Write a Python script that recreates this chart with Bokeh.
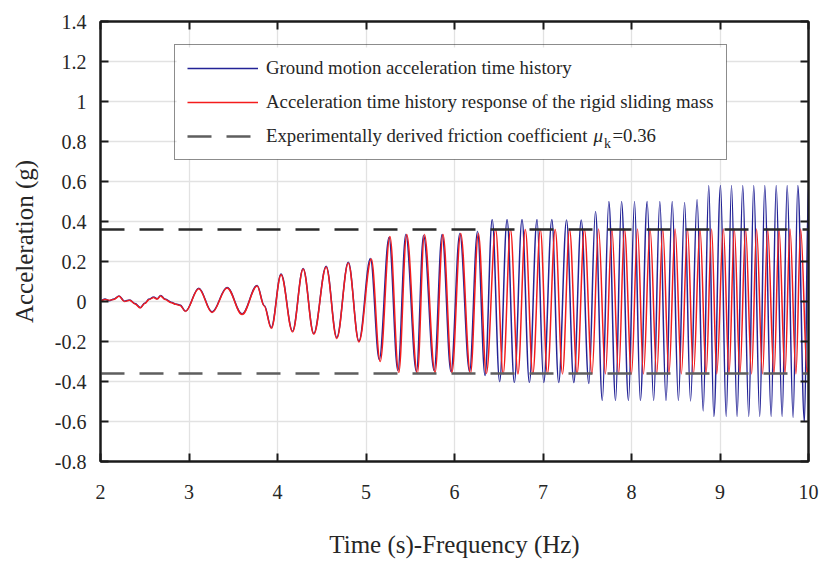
from bokeh.plotting import figure
from bokeh.models import Range1d, Legend, LegendItem, LinearAxis, FixedTicker, BoxAnnotation
from bokeh.core.properties import value
from bokeh.embed import file_html
from bokeh.resources import INLINE

# ---------------- data ----------------
# ground motion acceleration: times (s) and values (g) of the drawn turning points
t_ground = [2.00, 2.05, 2.10, 2.15, 2.21, 2.27, 2.33, 2.39, 2.45, 2.50, 2.55, 2.60, 2.64, 2.68, 2.73, 2.80, 2.85, 2.90, 2.96,
            3.11, 3.26, 3.43, 3.60, 3.77, 3.85, 3.93, 4.04, 4.17, 4.29, 4.41, 4.55, 4.67, 4.80, 4.92,
            5.05, 5.15, 5.26, 5.36, 5.45, 5.57, 5.65, 5.77, 5.86, 5.96, 6.06, 6.17, 6.26, 6.345,
            6.426, 6.51, 6.594, 6.676, 6.763, 6.846, 6.932, 7.008, 7.10, 7.177, 7.266, 7.348, 7.432, 7.518,
            7.593, 7.67, 7.744, 7.82, 7.887, 7.966, 8.034, 8.10, 8.177, 8.25, 8.32, 8.39, 8.46, 8.53,
            8.60, 8.667, 8.741, 8.81, 8.873, 8.93, 9.006, 9.07, 9.13, 9.193, 9.257, 9.325, 9.381, 9.449,
            9.506, 9.578, 9.635, 9.702, 9.759, 9.826, 9.879, 9.954, 10.0]
a_ground = [0.005, 0.012, 0.004, 0.012, 0.028, 0.002, 0.008, -0.010, -0.030, -0.008, 0.012, 0.022, 0.014, 0.030, 0.012, -0.004, -0.012, -0.018, -0.048,
            0.066, -0.052, 0.070, -0.062, 0.080, -0.020, -0.130, 0.138, -0.148, 0.165, -0.160, 0.176, -0.180, 0.196, -0.198,
            0.215, -0.290, 0.320, -0.345, 0.335, -0.350, 0.330, -0.345, 0.335, -0.350, 0.340, -0.350, 0.350, -0.370,
            0.410, -0.400, 0.410, -0.405, 0.410, -0.405, 0.410, -0.405, 0.410, -0.405, 0.407, -0.405, 0.407, -0.410,
            0.450, -0.495, 0.500, -0.495, 0.500, -0.495, 0.500, -0.495, 0.500, -0.495, 0.500, -0.495, 0.500, -0.495,
            0.495, -0.497, 0.510, -0.547, 0.580, -0.575, 0.580, -0.575, 0.580, -0.575, 0.580, -0.575, 0.580, -0.575,
            0.580, -0.575, 0.580, -0.575, 0.580, -0.580, 0.580, -0.600, 0.580]

# response of the rigid sliding mass: times (s) and values (g)
t_mass = [2.00, 2.05, 2.10, 2.15, 2.21, 2.27, 2.33, 2.39, 2.45, 2.50, 2.55, 2.60, 2.64, 2.68, 2.73, 2.80, 2.85, 2.90, 2.96,
          3.11, 3.26, 3.43, 3.60, 3.77, 3.85, 3.93, 4.04, 4.17, 4.29, 4.41, 4.55, 4.67, 4.80, 4.92,
          5.06, 5.16, 5.27, 5.37, 5.46, 5.58, 5.66, 5.78, 5.87, 5.97, 6.07, 6.18, 6.27, 6.36,
          6.465, 6.55, 6.633, 6.717, 6.80, 6.885, 6.97, 7.05, 7.138, 7.22, 7.30, 7.385, 7.468, 7.553,
          7.628, 7.705, 7.778, 7.855, 7.92, 8.00, 8.068, 8.135, 8.21, 8.285, 8.353, 8.423, 8.493, 8.563,
          8.633, 8.70, 8.774, 8.843, 8.905, 8.963, 9.038, 9.102, 9.162, 9.225, 9.289, 9.357, 9.413, 9.481,
          9.538, 9.61, 9.667, 9.734, 9.791, 9.858, 9.911, 9.986, 10.0]
a_mass = [0.004, 0.010, 0.006, 0.010, 0.026, 0.000, 0.006, -0.012, -0.032, -0.010, 0.010, 0.020, 0.012, 0.028, 0.010, -0.006, -0.014, -0.020, -0.050,
          0.064, -0.055, 0.068, -0.065, 0.077, -0.022, -0.135, 0.134, -0.152, 0.162, -0.164, 0.172, -0.185, 0.192, -0.202,
          0.212, -0.300, 0.325, -0.355, 0.335, -0.360, 0.335, -0.355, 0.335, -0.355, 0.340, -0.360, 0.340, -0.360,
          0.360, -0.362, 0.360, -0.362, 0.360, -0.362, 0.360, -0.362, 0.360, -0.362, 0.360, -0.362, 0.360, -0.362,
          0.362, -0.362, 0.362, -0.362, 0.362, -0.362, 0.362, -0.362, 0.362, -0.362, 0.362, -0.362, 0.362, -0.362,
          0.362, -0.362, 0.362, -0.362, 0.362, -0.362, 0.362, -0.362, 0.362, -0.362, 0.362, -0.362, 0.362, -0.362,
          0.362, -0.362, 0.362, -0.362, 0.362, -0.362, 0.362, -0.362, -0.330]

mu_k = 0.36  # experimentally derived friction coefficient

x_ticks = [2, 3, 4, 5, 6, 7, 8, 9, 10]
y_ticks = [-0.8, -0.6, -0.4, -0.2, 0.0, 0.2, 0.4, 0.6, 0.8, 1.0, 1.2, 1.4]
y_tick_labels = ["-0.8", "-0.6", "-0.4", "-0.2", "0", "0.2", "0.4", "0.6", "0.8", "1", "1.2", "1.4"]

legend_labels = ["Ground motion acceleration time history",
                 "Acceleration time history response of the rigid sliding mass",
                 "Experimentally derived friction coefficient"]
mu_symbol = "\u03bc"
mu_sub = "k"
mu_text = "=0.36"
x_title = "Time (s)-Frequency (Hz)"
y_title = "Acceleration (g)"

# ---------------- figure ----------------
FONT = "Liberation Serif"
TXT = "#262626"
BLUE = "#232396"
RED = "#f41c1c"

p = figure(width=820, height=563, output_backend="svg", toolbar_location=None,
           x_range=Range1d(x_ticks[0], x_ticks[-1]), y_range=Range1d(y_ticks[0], y_ticks[-1]),
           min_border_left=100, min_border_right=12, min_border_top=21, min_border_bottom=102,
           background_fill_color="white", border_fill_color="white")
# range far outside the frame: carries the legend sample lines only
p.extra_y_ranges = {"legend_only": Range1d(50, 60)}

p.outline_line_color = "#1a1a1a"
p.outline_line_width = 2

# grid
p.xgrid.ticker = FixedTicker(ticks=x_ticks)
p.ygrid.ticker = FixedTicker(ticks=y_ticks)
p.grid.grid_line_color = "#e2e2e2"
p.grid.grid_line_width = 1.3

# axes
for ax in (p.xaxis[0], p.yaxis[0]):
    ax.axis_line_color = "#1a1a1a"
    ax.axis_line_width = 2
    ax.major_tick_in = 8
    ax.major_tick_out = 0
    ax.major_tick_line_width = 2
    ax.major_tick_line_color = "#1a1a1a"
    ax.minor_tick_line_color = None
    ax.major_label_text_font = FONT
    ax.major_label_text_font_size = "20px"
    ax.major_label_text_color = TXT
    ax.axis_label_text_font = FONT
    ax.axis_label_text_font_size = "25px"
    ax.axis_label_text_font_style = "normal"
    ax.axis_label_text_color = TXT

p.xaxis[0].ticker = FixedTicker(ticks=x_ticks)
p.yaxis[0].ticker = FixedTicker(ticks=y_ticks)
p.yaxis[0].major_label_overrides = {v: s for v, s in zip(y_ticks, y_tick_labels)}
p.xaxis[0].major_label_overrides = {v: str(v) for v in x_ticks}
p.xaxis[0].axis_label = x_title
p.yaxis[0].axis_label = y_title
p.xaxis[0].major_label_standoff = 23
p.xaxis[0].axis_label_standoff = 29
p.yaxis[0].major_label_standoff = 14
p.yaxis[0].axis_label_standoff = 14

# mirrored axes (ticks only, no labels) on top and right
right_ax = LinearAxis(ticker=FixedTicker(ticks=y_ticks))
top_ax = LinearAxis(ticker=FixedTicker(ticks=x_ticks))
for ax in (right_ax, top_ax):
    ax.axis_line_color = "#1a1a1a"
    ax.axis_line_width = 2
    ax.major_tick_in = 8
    ax.major_tick_out = 0
    ax.major_tick_line_width = 2
    ax.major_tick_line_color = "#1a1a1a"
    ax.minor_tick_line_color = None
    ax.major_label_text_font_size = "0px"
    ax.major_label_text_color = None
    ax.major_label_standoff = 0
p.add_layout(right_ax, "right")
p.add_layout(top_ax, "above")

# white backing of the legend box (hides the grid there)
p.add_layout(BoxAnnotation(left=2.86, right=9.07, top=1.27, bottom=0.71,
                           fill_color="white", fill_alpha=1.0, line_color=None, level="underlay"))


# series: smooth curves through the read turning points (horizontal tangents)
def smooth(ts, vs, color):
    x0, x1 = ts[:-1], ts[1:]
    y0, y1 = vs[:-1], vs[1:]
    cx0 = [a + 0.364 * (b - a) for a, b in zip(x0, x1)]
    cx1 = [b - 0.364 * (b - a) for a, b in zip(x0, x1)]
    return p.bezier(x0=x0, y0=y0, x1=x1, y1=y1, cx0=cx0, cy0=y0, cx1=cx1, cy1=y1,
                    line_color=color, line_width=1.5)


smooth(t_ground, a_ground, BLUE)
smooth(t_mass, a_mass, RED)
r_mu_up = p.line([x_ticks[0], x_ticks[-1]], [mu_k, mu_k], line_color="#2a2a2a",
                 line_width=2.6, line_dash="24 15")
r_mu_dn = p.line([x_ticks[0], x_ticks[-1]], [-mu_k, -mu_k], line_color="#5e5e5e",
                 line_width=2.6, line_dash="24 15")

# legend sample lines: same series, mapped to a range outside the frame
lg_ground = p.line(t_ground, a_ground, line_color=BLUE, line_width=1.5, y_range_name="legend_only")
lg_mass = p.line(t_mass, a_mass, line_color=RED, line_width=1.5, y_range_name="legend_only")

legend = Legend(items=[LegendItem(label=legend_labels[0], renderers=[lg_ground]),
                       LegendItem(label=legend_labels[1], renderers=[lg_mass]),
                       LegendItem(label=legend_labels[2], renderers=[r_mu_dn])],
                location=(74, 301), margin=0, padding=12, spacing=12,
                glyph_width=71, glyph_height=20, label_height=20, label_standoff=8,
                label_text_font=FONT, label_text_font_size="18.8px", label_text_color=TXT,
                border_line_color="#1a1a1a", border_line_width=1.3,
                background_fill_alpha=0.0)
p.add_layout(legend)

# mu_k symbol after the third legend entry
p.text(x=[7.571], y=[0.829], text=[mu_symbol], text_font=value(FONT), text_font_size="19px",
       text_font_style="italic", text_color=TXT, text_baseline="middle")
p.text(x=[7.689], y=[0.829], text=[mu_sub], y_offset=8, text_font=value(FONT), text_font_size="14px",
       text_color=TXT, text_baseline="middle")
p.text(x=[7.785], y=[0.829], text=[mu_text], text_font=value(FONT), text_font_size="18.8px",
       text_color=TXT, text_baseline="middle")

open("out.html", "w").write(file_html(p, INLINE))
